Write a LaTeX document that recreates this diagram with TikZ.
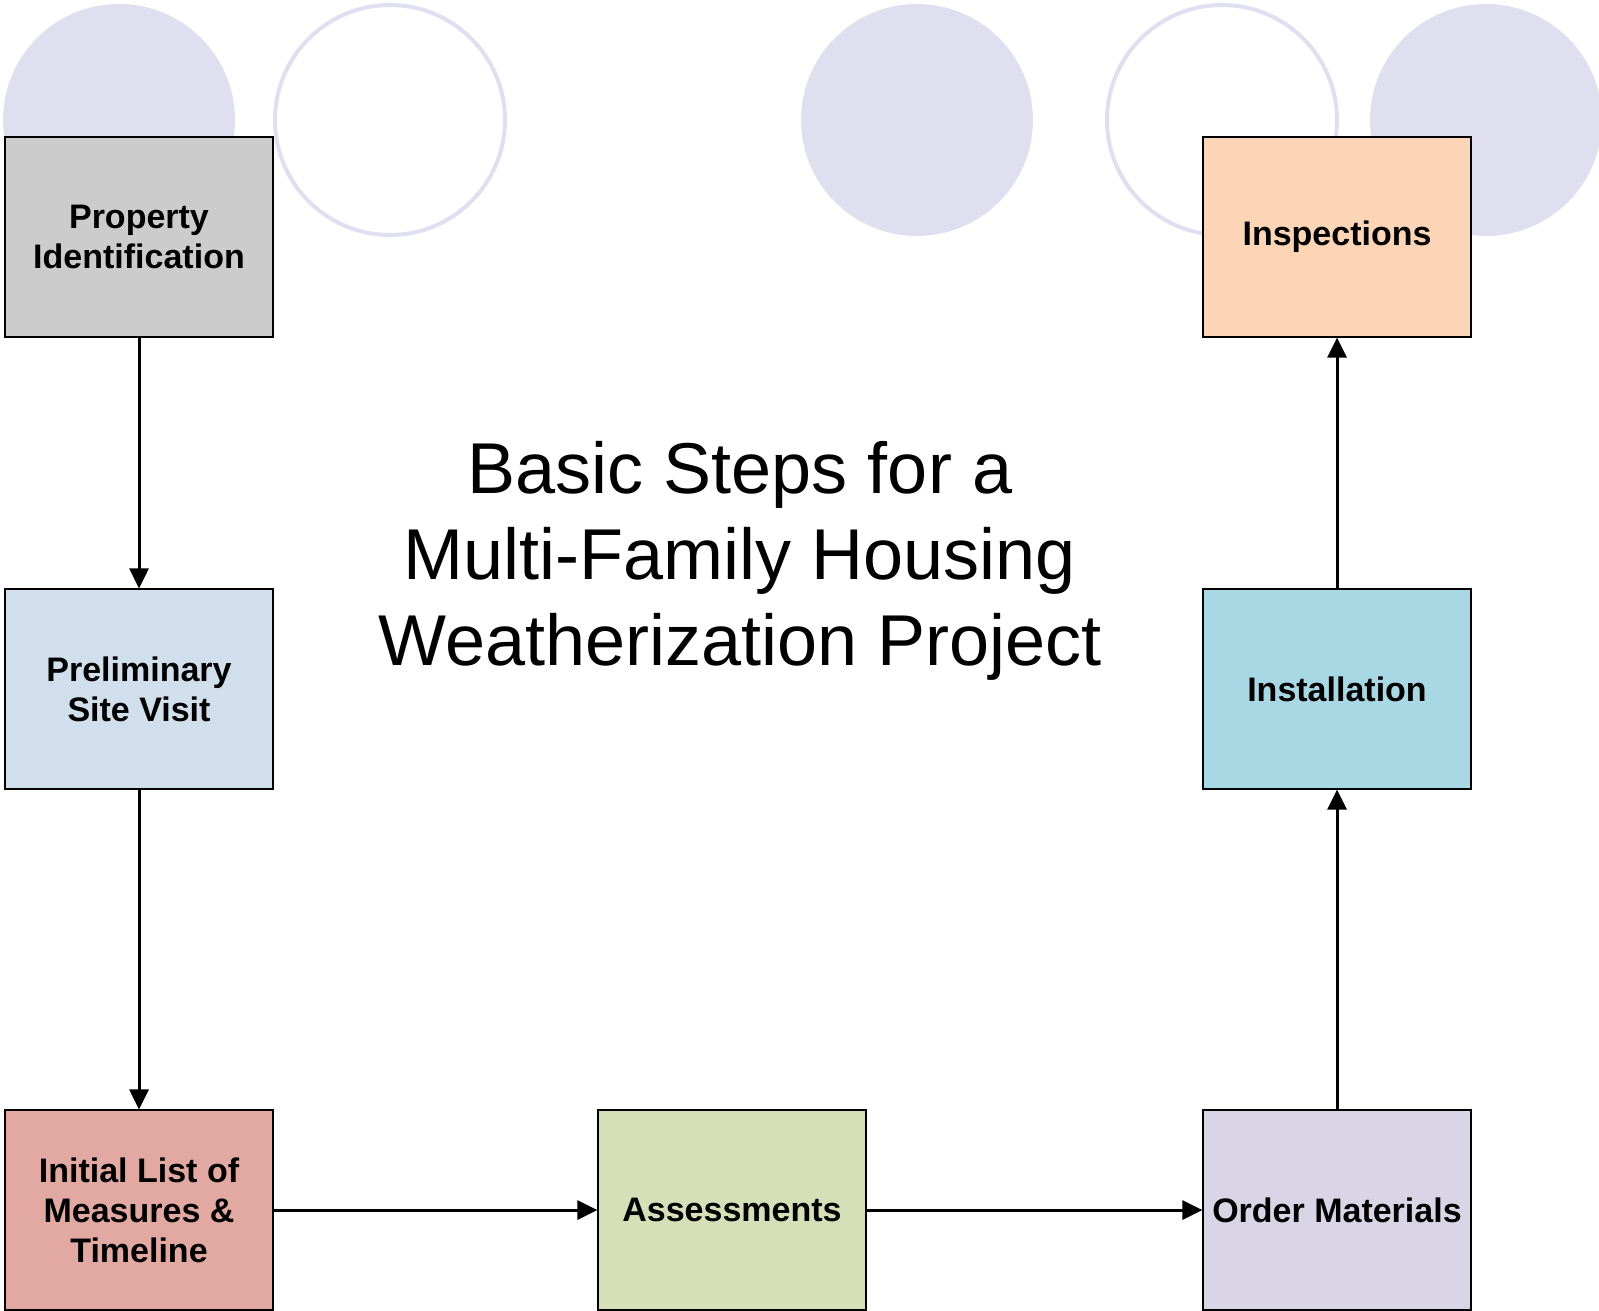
\documentclass[tikz,border=0pt]{standalone}
\usepackage{fontspec}
\setmainfont{Liberation Sans}
\usetikzlibrary{arrows.meta}
\definecolor{lav}{HTML}{E0DFEF}
\definecolor{cgray}{HTML}{CCCCCC}
\definecolor{cblue}{HTML}{D1DFEC}
\definecolor{cred}{HTML}{E2A9A2}
\definecolor{cgreen}{HTML}{D5E0B8}
\definecolor{cviolet}{HTML}{DAD5E6}
\definecolor{ccyan}{HTML}{A8D8E3}
\definecolor{cpeach}{HTML}{FBD5B5}
\tikzset{
  box/.style={draw,line width=1.2pt,minimum width=268pt,minimum height=200pt,inner sep=0pt,
    align=center,font=\fontsize{34}{40}\selectfont\bfseries},
  arr/.style={line width=3pt,-{Triangle[length=20pt,width=19pt]}}
}
\begin{document}
\begin{tikzpicture}[x=1pt,y=-1pt]
        \useasboundingbox(0,0)rectangle(1599,1311);
        \fill[lav](119,120)circle(116);
        \draw[lav,line width=4pt](390,120)circle(115);
        \fill[lav](917,120)circle(116);
        \draw[lav,line width=4pt](1222,120)circle(115);
        \fill[lav](1486,120)circle(116);
        \node(1)at(139,237)[box,fill=cgray]{Property\\Identification};
        \node(2)at(139,689)[box,fill=cblue]{Preliminary\\Site Visit};
        \node(3)at(139,1210)[box,fill=cred]{Initial List of\\Measures \&\\Timeline};
        \node(4)at(732,1210)[box,fill=cgreen]{Assessments};
        \node(5)at(1337,1210)[box,fill=cviolet]{Order Materials};
        \node(6)at(1337,689)[box,fill=ccyan]{Installation};
        \node(7)at(1337,237)[box,fill=cpeach]{Inspections};
        \node(8)at(740,561)[align=center,font=\fontsize{72}{86}\selectfont]{Basic Steps for a\\Multi-Family Housing\\Weatherization Project};
        \draw[arr](1)--(2);
        \draw[arr](2)--(3);
        \draw[arr](3)--(4);
        \draw[arr](4)--(5);
        \draw[arr](5)--(6);
        \draw[arr](6)--(7);
    \end{tikzpicture}
\end{document}
